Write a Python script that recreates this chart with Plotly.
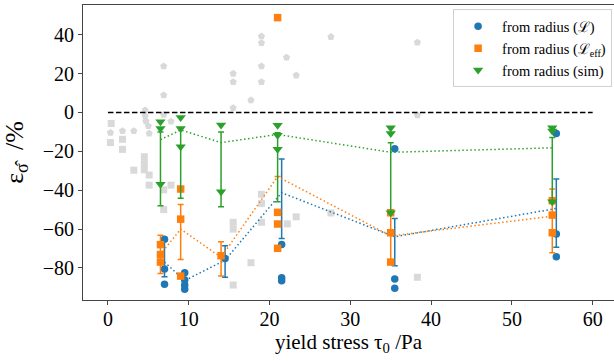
import plotly.graph_objects as go

# Yield stress of the sample groups (Pa)
tau0 = [6.5, 9.0, 14.0, 21.0, 35.0, 55.0]

# Individual relative errors, method "from radius (L)"
L_x = [6.5, 6.5, 6.5, 9.0, 9.0, 9.0, 9.0, 14.0, 21.0, 21.0, 21.0, 35.0, 35.0, 35.0, 55.0, 55.0, 55.0]
L_y = [-65.3, -80.6, -88.4, -82.5, -86.2, -88.8, -91.0, -75.1, -67.9, -85.0, -86.6,
       -18.7, -85.7, -90.5, -10.8, -62.6, -74.2]

# Individual relative errors, method "from radius (L_eff)"
Leff_x = [6.5, 6.5, 6.5, 9.0, 9.0, 9.0, 14.0, 21.0, 21.0, 21.0, 21.0, 35.0, 35.0, 35.0, 55.0, 55.0, 55.0]
Leff_y = [-68.0, -73.1, -77.0, -39.4, -54.9, -84.2, -73.7, 48.8, -51.4, -57.4, -69.9,
          -51.6, -61.9, -77.0, -45.4, -52.8, -61.9]

# Individual relative errors, method "from radius (sim)"
sim_x = [6.5, 6.5, 6.5, 9.0, 9.0, 9.0, 14.0, 14.0, 21.0, 21.0, 21.0, 35.0, 35.0, 35.0, 55.0, 55.0, 55.0]
sim_y = [-4.8, -8.2, -36.9, -2.6, -8.2, -17.7, -6.5, -40.8, -6.6, -11.7, -18.9,
         -7.9, -10.8, -51.6, -7.9, -9.5, -46.0]

# Group averages and error-bar bounds per method
L_mean = [-77.0, -86.5, -76.0, -41.3, -64.0, -49.4]
L_lo = [-84.5, -90.0, -84.8, -64.8, -78.9, -69.4]
L_hi = [-66.0, -83.0, -68.6, -24.0, -54.5, -34.3]

Leff_mean = [-73.0, -60.0, -74.5, -33.0, -63.5, -53.4]
Leff_lo = [-82.8, -75.6, -84.2, None, -78.0, -72.2]
Leff_hi = [-63.2, -47.3, -66.5, None, -50.5, -39.4]

sim_mean = [-14.0, -9.0, -15.5, -11.3, -20.5, -18.2]
sim_lo = [-48.0, -44.2, -48.5, -46.0, -51.5, -46.5]
sim_hi = [-10.0, -8.0, -10.0, -10.5, -15.6, -12.9]

# Reference data of other methods (grey background)
ref_sq_x = [0.4, 0.3, 1.8, 1.8, 3.2, 4.5, 4.5, 4.5, 5.1, 5.1, 6.9, 7.8, 6.9,
            15.5, 15.5, 15.5, 17.7, 19.0, 19.0, 19.0, 22.2, 23.3, 27.6, 38.3]
ref_sq_y = [-5.7, -15.5, -13.8, -19.0, -29.7, -22.8, -26.3, -29.5, -32.2, -37.4, -39.8, -37.4, -50.0,
            -56.5, -60.0, -88.8, -77.3, -42.1, -46.8, -56.5, -57.3, -53.7, -51.7, -84.8]
ref_pent_x = [0.3, 1.8, 3.2, 4.6, 4.6, 4.7, 5.0, 5.1, 6.9, 6.9, 6.9, 7.8,
              15.5, 15.5, 15.5, 17.7, 19.0, 19.0, 19.0, 19.0, 22.1, 23.3, 27.6, 38.3, 38.3]
ref_pent_y = [-10.4, -9.5, -9.5, 1.2, -1.8, -4.5, -7.0, -10.8, 23.8, 8.9, -1.2, -4.6,
              20.0, 15.7, 2.3, 6.3, 39.2, 35.8, 23.8, 15.7, 28.3, 19.1, 38.9, 36.0, -1.4]

BLUE, ORANGE, GREEN, GREY = "#1f77b4", "#ff7f0e", "#2ca02c", "#d9d9d9"
L_SHIFT = 0.5  # small horizontal shift so the (L) markers stay visible

FONT = "Liberation Serif"

fig = go.Figure()

# grey background points
fig.add_trace(go.Scatter(x=ref_sq_x, y=ref_sq_y, mode="markers", showlegend=False,
                         marker=dict(symbol="square", size=7, color=GREY)))
fig.add_trace(go.Scatter(x=ref_pent_x, y=ref_pent_y, mode="markers", showlegend=False,
                         marker=dict(symbol="pentagon", size=7.5, color=GREY)))

# zero reference line
fig.add_trace(go.Scatter(x=[0, 60], y=[0, 0], mode="lines", showlegend=False,
                         line=dict(color="black", width=1.5, dash="5.5px,2.5px")))


def errs(mean, lo, hi):
    plus = [None if h is None else h - m for m, h in zip(mean, hi)]
    minus = [None if l is None else m - l for m, l in zip(mean, lo)]
    return plus, minus


series = [
    ("from radius (ℒ)", L_x, L_y, L_mean, L_lo, L_hi, BLUE, "circle", 7.5, L_SHIFT),
    ("from radius (ℒ<sub>eff</sub>)", Leff_x, Leff_y, Leff_mean, Leff_lo, Leff_hi, ORANGE, "square", 7.5, 0.0),
    ("from radius (sim)", sim_x, sim_y, sim_mean, sim_lo, sim_hi, GREEN, "triangle-down", 9, 0.0),
]

for name, px, py, mean, lo, hi, col, sym, size, shift in series:
    fig.add_trace(go.Scatter(x=[v + shift for v in px], y=py, mode="markers", name=name,
                             marker=dict(symbol=sym, size=size, color=col)))
    plus, minus = errs(mean, lo, hi)
    fig.add_trace(go.Scatter(x=[v + shift for v in tau0], y=mean, mode="lines", showlegend=False,
                             line=dict(color=col, width=1.5, dash="1.5px,2.5px"),
                             error_y=dict(type="data", symmetric=False, array=plus, arrayminus=minus,
                                          color=col, thickness=1.5, width=3)))

fig.update_layout(
    width=614, height=361,
    margin=dict(l=83, r=0, t=5, b=61),
    paper_bgcolor="white", plot_bgcolor="white",
    font=dict(family=FONT, size=20, color="black"),
    legend=dict(x=0.697, y=0.985, xanchor="left", yanchor="top",
                bgcolor="white", bordercolor="#d0d0d0", borderwidth=1,
                itemwidth=38,
                font=dict(family=FONT, size=14.5)),
)
fig.update_xaxes(range=[-3.09, 62.64], tickvals=[0, 10, 20, 30, 40, 50, 60],
                 showgrid=False, zeroline=False, showline=True, linecolor="#444", linewidth=1,
                 mirror=True, ticks="outside", ticklen=4, tickcolor="#444",
                 tickfont=dict(size=20), ticklabelstandoff=-3,
                 title=dict(text="yield stress τ<sub>0</sub> /Pa", font=dict(size=21), standoff=0))
fig.update_yaxes(range=[-96.5, 55.3], tickvals=[-80, -60, -40, -20, 0, 20, 40],
                 showgrid=False, zeroline=False, showline=True, linecolor="#444", linewidth=1,
                 ticks="outside", ticklen=4, tickcolor="#444",
                 tickfont=dict(size=20),
                 title=dict(text="ε<sub>σ̂</sub>  /%", font=dict(size=26), standoff=16))

fig.write_html("out.html")
